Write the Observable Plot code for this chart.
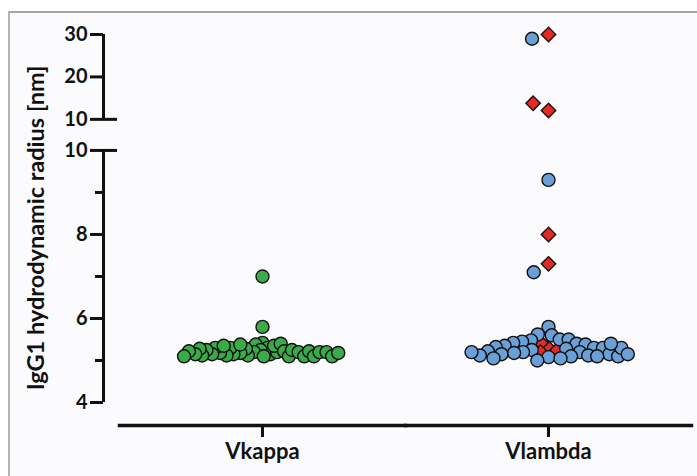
<!DOCTYPE html>
<html>
<head>
<meta charset="utf-8">
<script src="https://cdn.jsdelivr.net/npm/d3@7"></script>
<script src="https://cdn.jsdelivr.net/npm/@observablehq/plot@0.6"></script>
<style>
  html, body { margin: 0; padding: 0; background: #ffffff; }
  #wrap { position: relative; width: 697px; height: 476px; overflow: hidden; }
  #panel { position: absolute; left: 8px; top: 11px; width: 720px; height: 500px;
           border-top: 2px solid #a4a4a4; border-left: 2px solid #b4b4b4; background: #fbfbfd; }
  #chart { position: absolute; left: 0; top: 0; }
</style>
</head>
<body>
<div id="wrap"><div id="panel"></div><div id="chart"></div></div>
<script>
// ---- data ----
const categories = ["Vkappa", "Vlambda"];
const kappaValues = [7.0, 5.8, 5.42, 5.38, 5.3, 5.25, 5.2, 5.15, 5.1, 5.12, 5.2, 5.28, 5.35, 5.4,
  5.22, 5.18, 5.1, 5.15, 5.25, 5.3, 5.2, 5.12, 5.1, 5.18, 5.22, 5.3, 5.38, 5.15, 5.1, 5.2,
  5.25, 5.12, 5.2, 5.28, 5.15, 5.1, 5.22, 5.18, 5.35, 5.1];
const lambdaDiamondValues = [30.0, 12.1, 13.8, 8.0, 7.3, 5.3, 5.42, 5.2, 5.25];
const lambdaCircleValues = [29.0, 9.3, 7.1, 5.8, 5.6, 5.62, 5.5, 5.48, 5.5, 5.45, 5.4, 5.42,
  5.38, 5.35, 5.3, 5.32, 5.28, 5.3, 5.25, 5.2, 5.22, 5.2, 5.18, 5.15, 5.12, 5.1, 5.15, 5.1,
  5.12, 5.08, 5.05, 5.1, 5.0, 5.05, 5.2, 5.3, 5.4, 5.15];
const lowerMajorTicks = [4, 6, 8, 10];
const lowerMinorTicks = [5, 7, 9];
const upperTicks = [10, 20, 30];
const lowerSegment = [4, 10];
const upperSegment = [10, 30];
const yTitle = "IgG1 hydrodynamic radius [nm]";

// ---- broken y axis: lower 4–10 linear, upper 10–30 compressed ----
const BREAK = 10, GAP = 0.74, UPPER_K = 0.101;
const yUpper = v => BREAK + GAP + (v - BREAK) * UPPER_K;
const yUpperInv = u => BREAK + (u - BREAK - GAP) / UPPER_K;
const brk = v => (v <= BREAK ? v : yUpper(v));

const OUTLIER_CUTOFF = 6; // outlying points are spread more widely, as in the reference
const kappaRows = kappaValues.map(v => ({group: "Vkappa", series: "kappa", shape: "round", v}));
const lambdaRows = [
  ...lambdaDiamondValues.map(v => ({group: "Vlambda", series: "lambdaD", shape: "rhomb", v})),
  ...lambdaCircleValues.map(v => ({group: "Vlambda", series: "lambdaC", shape: "round", v}))
];
const lambdaBulk = lambdaRows.filter(d => d.v < OUTLIER_CUTOFF);
const lambdaHigh = lambdaRows.filter(d => d.v >= OUTLIER_CUTOFF);
const segments = [
  {y1: lowerSegment[0], y2: lowerSegment[1]},
  {y1: yUpper(upperSegment[0]), y2: yUpper(upperSegment[1])}
];
const breakCaps = [lowerSegment[1], yUpper(upperSegment[0])];

const AX = -16; // y axis sits left of the plotting frame
const font = {fontSize: 20, fontWeight: "bold"};
const dotStyle = {fx: "group", y: d => brk(d.v), r: 6.5, symbol: "shape", fill: "series", stroke: "#111", strokeWidth: 1.4};

const chart = Plot.plot({
  width: 697, height: 476,
  marginLeft: 118, marginRight: 6, marginTop: 34, marginBottom: 51,
  style: {background: "transparent", fontFamily: "Lato, 'Open Sans', sans-serif", color: "#111", overflow: "visible"},
  fx: {domain: categories, padding: 0, axis: null, label: null},
  x: {domain: [0, 1], axis: null},
  y: {domain: [4, yUpper(30)], range: [402, 34], axis: null},
  color: {domain: ["kappa", "lambdaC", "lambdaD"], range: ["#3aab48", "#6b9fd8", "#e32a24"]},
  symbol: {domain: ["round", "rhomb"], range: [d3.symbolCircle, d3.symbolDiamond2]},
  marks: [
    Plot.frame({anchor: "bottom", stroke: "#111", strokeWidth: 3.5}),
    Plot.axisFx({anchor: "bottom", tickSize: 12, tickPadding: 6, strokeWidth: 3, label: null, fontSize: 22, fontWeight: "bold"}),
    Plot.ruleX(segments, {x: 0, y1: "y1", y2: "y2", dx: AX, stroke: "#111", strokeWidth: 3, facetAnchor: "left"}),
    Plot.ruleY(breakCaps, {y: d => d, x1: 0, x2: 0, dx: AX, insetRight: -14, stroke: "#111", strokeWidth: 3, facetAnchor: "left"}),
    Plot.axisY(lowerMajorTicks, {anchor: "left", dx: AX, tickSize: 13, tickPadding: 3, strokeWidth: 3, label: null, tickFormat: d => String(d), ...font}),
    Plot.axisY(lowerMinorTicks, {anchor: "left", dx: AX, tickSize: 8, strokeWidth: 3, label: null, tickFormat: () => ""}),
    Plot.axisY(upperTicks.map(yUpper), {anchor: "left", dx: AX, tickSize: 13, tickPadding: 3, strokeWidth: 3, label: null, tickFormat: u => String(Math.round(yUpperInv(u))), ...font}),
    Plot.text([yTitle], {text: d => d, frameAnchor: "left", textAnchor: "middle", lineAnchor: "middle", rotate: -90, dx: -83, dy: -2, fontSize: 23.5, fontWeight: "bold", facetAnchor: "left"}),
    Plot.dot(kappaRows, Plot.dodgeX({anchor: "middle", padding: -6}, dotStyle)),
    Plot.dot(lambdaBulk, Plot.dodgeX({anchor: "middle", padding: -4}, dotStyle)),
    Plot.dot(lambdaHigh, Plot.dodgeX({anchor: "middle", padding: 4}, dotStyle))
  ]
});
document.getElementById("chart").append(chart);
</script>
</body>
</html>
